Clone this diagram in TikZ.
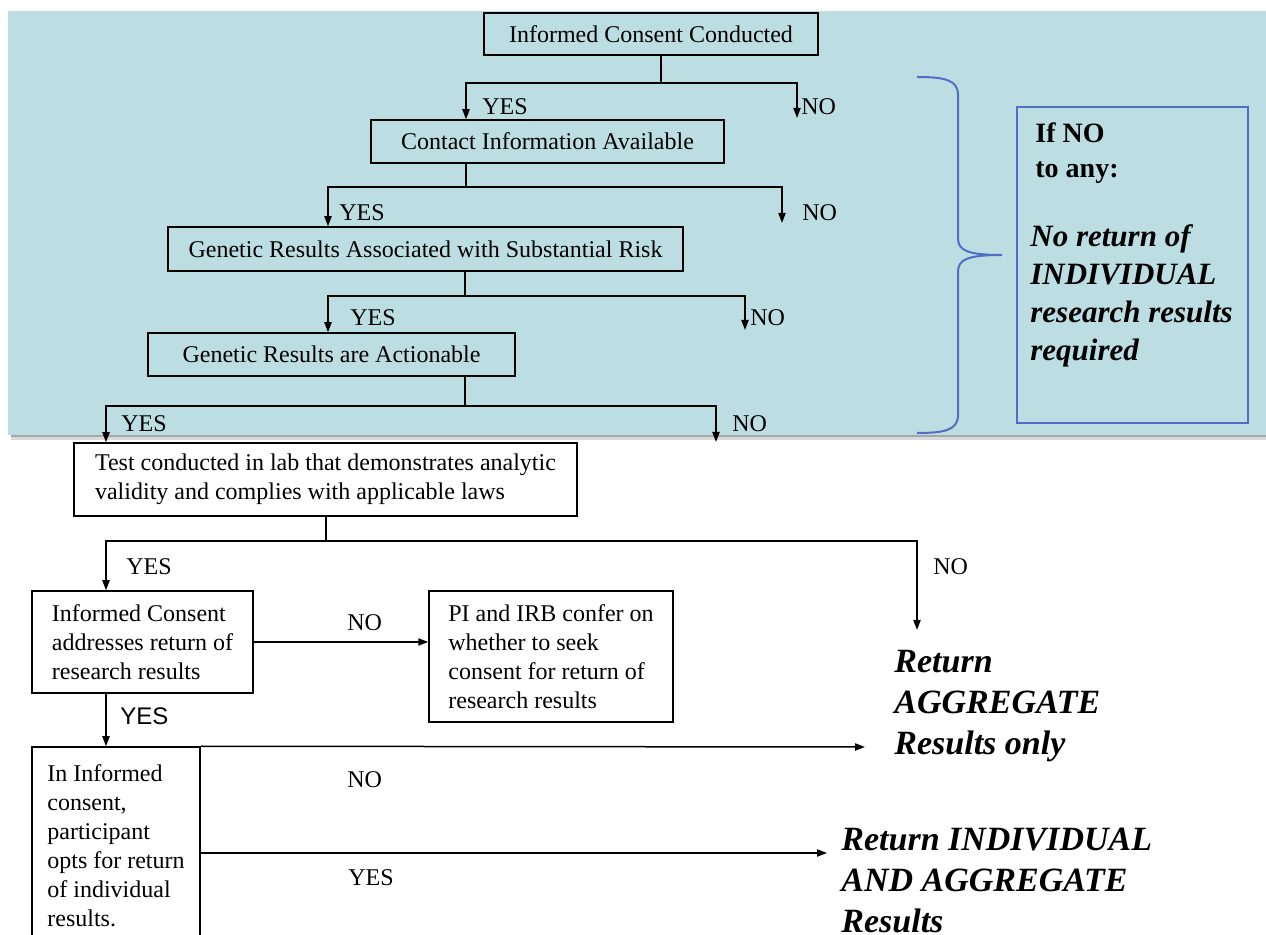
\documentclass[tikz,border=0pt]{standalone}
\usepackage{fontspec}
\setmainfont{Liberation Serif}
\newfontfamily\arialfont{Liberation Sans}
\usetikzlibrary{arrows.meta}

\definecolor{panelbg}{RGB}{188,222,226}
\definecolor{bracecol}{RGB}{80,110,195}
\newcommand{\boxfont}{\fontsize{12}{14.5}\selectfont}
\newcommand{\resfont}{\fontsize{17}{20.5}\selectfont\bfseries\itshape}
\newcommand{\notefont}{\fontsize{15.5}{19}\selectfont\bfseries\itshape}
\newcommand{\headfont}{\fontsize{14}{17.5}\selectfont\bfseries}

\tikzset{
  box/.style={draw, line width=0.75pt, font=\boxfont, inner sep=0pt, align=center},
  leftbox/.style={box, align=left},
  arr/.style={-{Triangle[length=5pt,width=3.6pt]}, line width=0.75pt},
  lbl/.style={font=\boxfont, anchor=west, inner sep=0pt},
  resnode/.style={font=\resfont, anchor=north west, inner sep=0pt, align=left},
}

\begin{document}
\begin{tikzpicture}[x=0.5pt,y=-0.5pt]
\useasboundingbox (0,0) rectangle (1266,935);
\clip (0,0) rectangle (1266,935);
% shaded panel
\fill[black!35] (11,435) rectangle (1266,437);
\fill[black!15] (11,437) rectangle (1266,440);
\fill[panelbg] (8,11) rectangle (1266,435);

% boxes
\node[box, minimum width=167pt, minimum height=21pt] (b1) at (651,34) {Informed Consent Conducted};
\node[box, minimum width=176.5pt, minimum height=21.5pt] (b2) at (547.5,141.5) {Contact Information Available};
\node[box, minimum width=257.5pt, minimum height=22pt] (b3) at (425.5,249) {Genetic Results Associated with Substantial Risk};
\node[box, minimum width=183.5pt, minimum height=21.5pt] (b4) at (331.5,354.5) {Genetic Results are Actionable};
\node[leftbox, fill=white, minimum width=251.5pt, minimum height=36.5pt] (b5) at (325.5,479.5)
  {Test conducted in lab that demonstrates analytic\\validity and complies with applicable laws};
\node[leftbox, minimum width=110.5pt, minimum height=51pt] (b6) at (142.5,642)
  {Informed Consent\\addresses return of\\research results};
\node[leftbox, minimum width=122pt, minimum height=65.5pt] (b7) at (551,656.5)
  {PI and IRB confer on\\whether to seek\\consent for return of\\research results};
\node[leftbox, minimum width=84pt, minimum height=99pt] (b8) at (116,846)
  {In Informed\\consent,\\participant\\opts for return\\of individual\\results.};

% side note
\node[draw=bracecol, line width=1pt, minimum width=115.5pt, minimum height=158pt] (note) at (1132.5,265) {};
\node[font=\headfont, anchor=north west, inner sep=0pt, align=left] (ifno) at (1035,122) {If NO\\to any:};
\node[font=\notefont, anchor=north west, inner sep=0pt, align=left] (noret) at (1030,224)
  {No return of\\INDIVIDUAL\\research results\\required};
\draw[bracecol, line width=1pt] (917,77) .. controls (945,77) and (958,80) .. (958,95) -- (958,238)
  .. controls (958,250) and (966,255) .. (1002,255) .. controls (966,255) and (958,260) .. (958,272)
  -- (958,415) .. controls (958,430) and (945,433) .. (917,433);

% results
\node[resnode] (agg) at (894,650) {Return\\AGGREGATE\\Results only};
\node[resnode] (ind) at (841,828) {Return INDIVIDUAL\\AND AGGREGATE\\Results};

% junctions
\coordinate (j1) at (661,83); \coordinate (y1) at (466,83); \coordinate (n1) at (797,83); \coordinate (n1e) at (797,118);
\coordinate (j2) at (466,187); \coordinate (y2) at (328,187); \coordinate (n2) at (782,187); \coordinate (n2e) at (782,223);
\coordinate (j3) at (465,296); \coordinate (y3) at (328,296); \coordinate (n3) at (745,296); \coordinate (n3e) at (745,330);
\coordinate (j4) at (465,406); \coordinate (y4) at (106,406); \coordinate (n4) at (716,406); \coordinate (n4e) at (716,442);
\coordinate (j5) at (326,541); \coordinate (y5) at (106,541); \coordinate (n5) at (917,541); \coordinate (n5e) at (917,630);
\coordinate (aggin) at (865,747); \coordinate (indin) at (827,853);

% connectors
\draw[line width=0.75pt] (b1.south -| j1) -- (j1);
\draw[arr] (j1) -- (y1) -- (b2.north -| y1);
\draw[arr] (j1) -- (n1) -- (n1e);
\draw[line width=0.75pt] (b2.south -| j2) -- (j2);
\draw[arr] (j2) -- (y2) -- (b3.north -| y2);
\draw[arr] (j2) -- (n2) -- (n2e);
\draw[line width=0.75pt] (b3.south -| j3) -- (j3);
\draw[arr] (j3) -- (y3) -- (b4.north -| y3);
\draw[arr] (j3) -- (n3) -- (n3e);
\draw[line width=0.75pt] (b4.south -| j4) -- (j4);
\draw[arr] (j4) -- (y4) -- (b5.north -| y4);
\draw[arr] (j4) -- (n4) -- (n4e);
\draw[line width=0.75pt] (b5.south -| j5) -- (j5);
\draw[arr] (j5) -- (y5) -- (b6.north -| y5);
\draw[arr] (j5) -- (n5) -- (n5e);
\draw[arr] (b6.east) -- (b6.east -| b7.west);
\draw[arr] (b6.south -| y5) -- (b8.north -| y5);
\draw[arr] (b8.north east) -- (aggin);
\draw[arr] (b8.east |- indin) -- (indin);

% labels
\node[lbl] (yes1) at (482,107) {YES}; \node[lbl] (no1) at (801,107) {NO};
\node[lbl] (yes2) at (339,213) {YES}; \node[lbl] (no2) at (802,213) {NO};
\node[lbl] (yes3) at (350,318) {YES}; \node[lbl] (no3) at (750,318) {NO};
\node[lbl] (yes4) at (121,424) {YES}; \node[lbl] (no4) at (732,424) {NO};
\node[lbl] (yes5) at (126,567) {YES}; \node[lbl] (no5) at (933,567) {NO};
\node[lbl] (no6) at (347,623) {NO};
\node[lbl, font=\arialfont\boxfont] (yes6) at (120,716) {YES};
\node[lbl] (no8) at (347,780) {NO};
\node[lbl] (yes8) at (348,878) {YES};
\end{tikzpicture}
\end{document}
